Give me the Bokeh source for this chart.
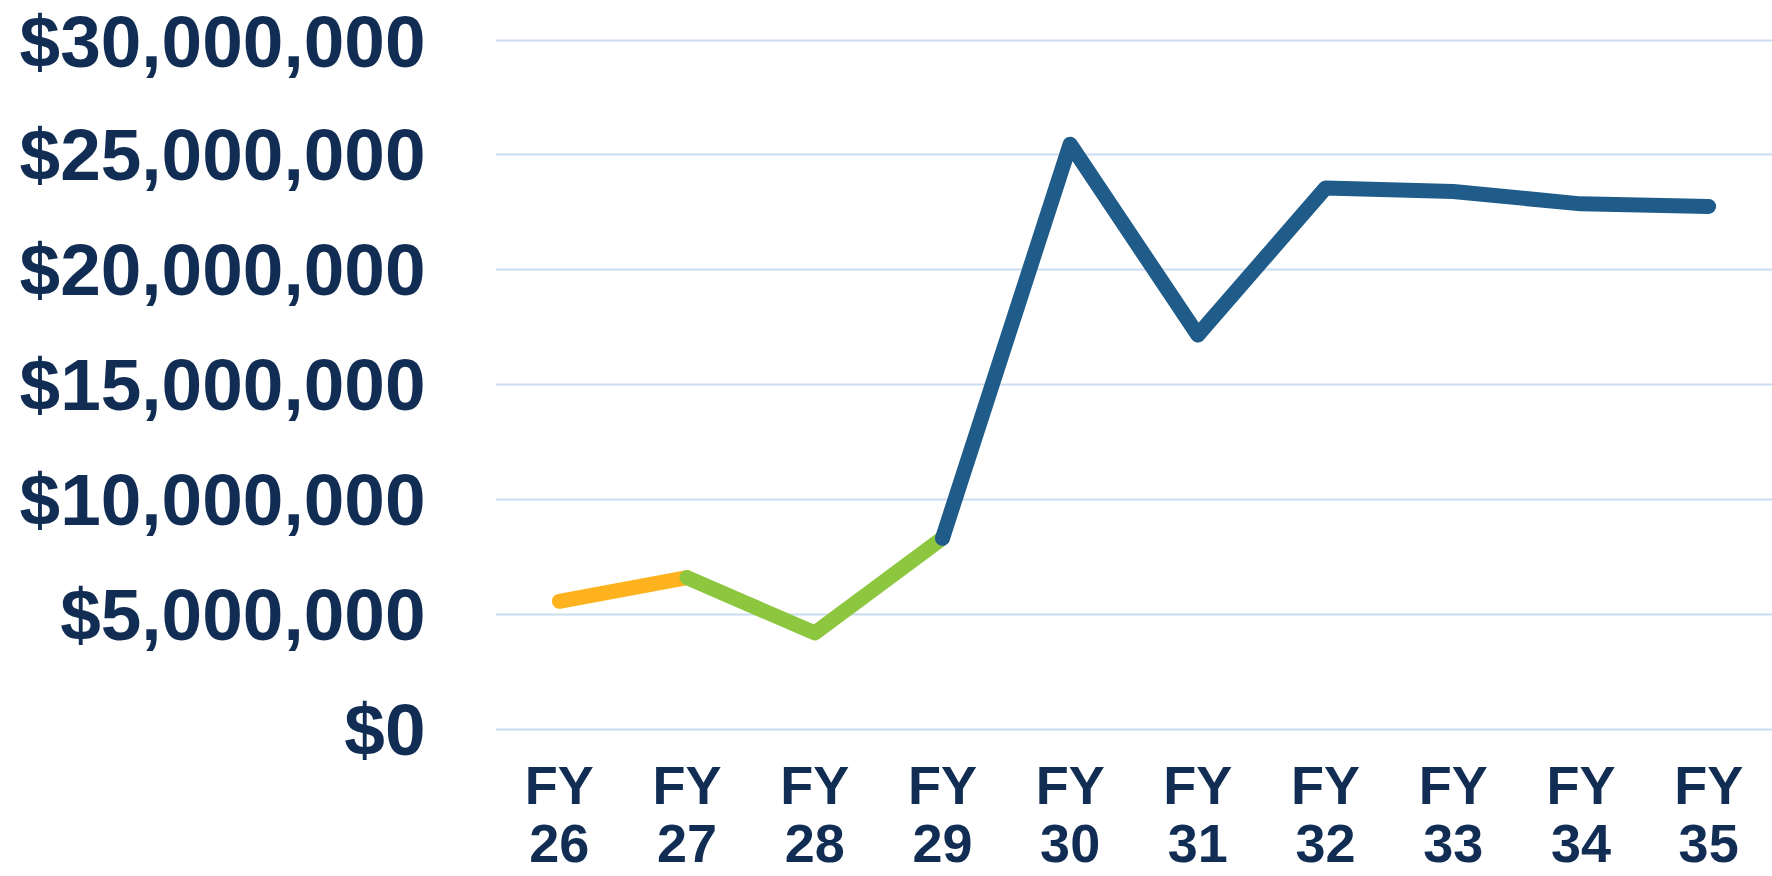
from bokeh.plotting import figure
from bokeh.models import FactorRange, Range1d, NumeralTickFormatter, FixedTicker
from bokeh.embed import file_html
from bokeh.resources import INLINE

# ---- data ----
years = ["FY\n26", "FY\n27", "FY\n28", "FY\n29", "FY\n30",
         "FY\n31", "FY\n32", "FY\n33", "FY\n34", "FY\n35"]
funding = [5.57e6, 6.60e6, 4.19e6, 8.31e6, 25.47e6,
           17.16e6, 23.56e6, 23.41e6, 22.87e6, 22.76e6]
y_ticks = [0, 5e6, 10e6, 15e6, 20e6, 25e6, 30e6]

# three phases of the line (share their end points)
phase_orange = (0, 2)
phase_green = (1, 4)
phase_blue = (3, 10)

TEXT = "#122D54"
ORANGE = "#FDB21E"
GREEN = "#8DC63F"
BLUE = "#1F5C8A"
GRID = "#C9DCF2"

p = figure(
    width=1772, height=876,
    x_range=FactorRange(factors=years, range_padding=0),
    y_range=Range1d(-0.1e6, 30.2e6),
    output_backend="svg", toolbar_location=None,
    min_border_left=495, min_border_right=0,
    min_border_top=35, min_border_bottom=141,
)
p.outline_line_color = None
p.background_fill_color = "white"
p.border_fill_color = "white"

for (a, b), col in [(phase_orange, ORANGE), (phase_green, GREEN), (phase_blue, BLUE)]:
    p.line(years[a:b], funding[a:b], line_color=col, line_width=15,
           line_cap="round", line_join="round")

# axes
p.yaxis.ticker = FixedTicker(ticks=y_ticks)
p.yaxis.formatter = NumeralTickFormatter(format="$0,0")
for ax in (p.xaxis, p.yaxis):
    ax.axis_line_color = None
    ax.major_tick_line_color = None
    ax.minor_tick_line_color = None
    ax.major_tick_out = 0
    ax.major_tick_in = 0
    ax.minor_tick_out = 0
    ax.minor_tick_in = 0
    ax.axis_label_standoff = 0
    ax.major_label_text_color = TEXT
    ax.major_label_text_font = "Liberation Sans"
    ax.major_label_text_font_style = "bold"
p.yaxis.major_label_text_font_size = "73px"
p.yaxis.major_label_standoff = 70
p.xaxis.major_label_text_font_size = "54px"
p.xaxis.major_label_text_line_height = 0.98
p.xaxis.major_label_standoff = 23

p.xgrid.grid_line_color = None
p.ygrid.grid_line_color = GRID
p.ygrid.grid_line_width = 2

open("out.html", "w").write(file_html(p, INLINE))
